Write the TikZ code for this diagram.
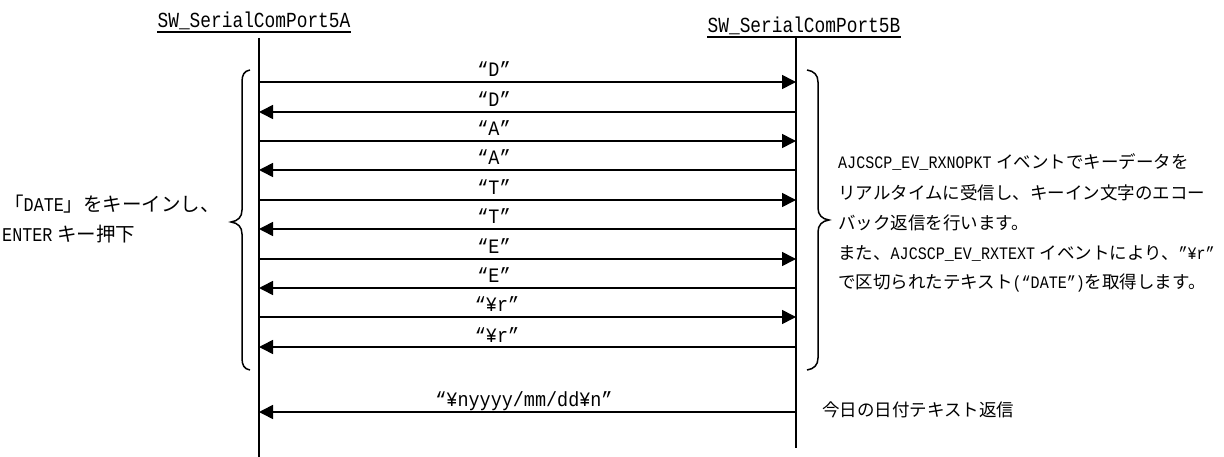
\documentclass[tikz,border=0pt]{standalone}
\usepackage{fontspec}
\setmainfont{Liberation Serif}
\newfontfamily\jpf[Scale=1.0]{Noto Sans CJK JP}
\newfontfamily\monof[Scale=1.0,FakeStretch=0.86]{Liberation Mono}
\newfontfamily\lblf[FakeStretch=0.9]{Liberation Mono}
\newfontfamily\titlef[FakeStretch=0.83]{Liberation Mono}
\usetikzlibrary{arrows.meta}
\newcommand{\jtxt}[1]{{\jpf #1}}
\newcommand{\ltxt}[1]{{\monof #1}}
\tikzset{
  lifeline/.style={line width=1.8pt},
  msg/.style={line width=1.6pt,-{Triangle[length=14pt,width=14pt]}},
  lbl/.style={font=\lblf\fontsize{20.5}{22}\selectfont,anchor=base,inner sep=0pt},
  note/.style={anchor=base west,inner sep=0pt,font=\fontsize{17.5}{20}\selectfont},
  leftnote/.style={anchor=base west,inner sep=0pt,font=\fontsize{19.5}{22}\selectfont},
  ttl/.style={font=\titlef\fontsize{21.5}{24}\selectfont,anchor=base,inner sep=0pt},
  brace/.style={line width=1.5pt},
}
\begin{document}
\begin{tikzpicture}[x=1pt,y=-1pt]
\useasboundingbox (0,0) rectangle (1224,457);
% titles
\node[ttl] (tA) at (254,28) {SW\_SerialComPort5A};
\node[ttl] (tB) at (804,33) {SW\_SerialComPort5B};
\draw[line width=1.2pt] ([yshift=-4pt]tA.base west) -- ([yshift=-4pt]tA.base east);
\draw[line width=1.2pt] ([yshift=-4pt]tB.base west) -- ([yshift=-4pt]tB.base east);
% lifelines
\coordinate (Atop) at (259,38);
\coordinate (Abot) at (259,457);
\coordinate (Btop) at (796,38);
\coordinate (Bbot) at (796,448);
\draw[lifeline] (Atop) -- (Abot);
\draw[lifeline] (Btop) -- (Bbot);
% message end points
\foreach \i/\y in {1/82,2/112,3/141,4/170,5/200,6/229,7/259,8/288,9/317,10/347,11/412}{
  \coordinate (a\i) at (259,\y);
  \coordinate (b\i) at (796,\y);
}
\draw[msg] (a1) -- (b1);
\draw[msg] (b2) -- (a2);
\draw[msg] (a3) -- (b3);
\draw[msg] (b4) -- (a4);
\draw[msg] (a5) -- (b5);
\draw[msg] (b6) -- (a6);
\draw[msg] (a7) -- (b7);
\draw[msg] (b8) -- (a8);
\draw[msg] (a9) -- (b9);
\draw[msg] (b10) -- (a10);
\draw[msg] (b11) -- (a11);
% labels
\node[lbl] (l1) at (494,77) {“D”};
\node[lbl] (l2) at (494,107) {“D”};
\node[lbl] (l3) at (494,136) {“A”};
\node[lbl] (l4) at (494,165) {“A”};
\node[lbl] (l5) at (494,195) {“T”};
\node[lbl] (l6) at (494,224) {“T”};
\node[lbl] (l7) at (494,254) {“E”};
\node[lbl] (l8) at (494,283) {“E”};
\node[lbl] (l9) at (497,312) {“¥r”};
\node[lbl] (l10) at (497,342) {“¥r”};
\node[lbl] (l11) at (524,406) {“¥nyyyy/mm/dd¥n”};
% braces
\draw[brace] (250,70) .. controls (244,71) and (242,75) .. (242,82) -- (242,210)
  .. controls (242,217) and (238,221) .. (231,222)
  .. controls (238,223) and (242,227) .. (242,234) -- (242,358)
  .. controls (242,365) and (244,369) .. (250,370);
\draw[brace] (807,70) .. controls (814,71) and (818,75) .. (818,82) -- (818,208)
  .. controls (818,215) and (822,219) .. (829,220)
  .. controls (822,221) and (818,225) .. (818,232) -- (818,358)
  .. controls (818,365) and (814,369) .. (807,370);
% left note
\node[leftnote] (n1) at (4,212) {\jtxt{「}\ltxt{DATE}\jtxt{」をキーインし、}};
\node[leftnote] (n2) at (2,242) {\ltxt{ENTER} \jtxt{キー押下}};
% right note
\node[note] (r1) at (838,168.5) {\ltxt{AJCSCP\_EV\_RXNOPKT} \jtxt{イベントでキーデータを}};
\node[note] (r2) at (838,199.5) {\jtxt{リアルタイムに受信し、キーイン文字のエコー}};
\node[note] (r3) at (838,229.5) {\jtxt{バック返信を行います。}};
\node[note] (r4) at (838,259.5) {\jtxt{また、}\ltxt{AJCSCP\_EV\_RXTEXT} \jtxt{イベントにより、}\ltxt{”¥r”}};
\node[note] (r5) at (838,288.5) {\jtxt{で区切られたテキスト}\ltxt{(“DATE”)}\jtxt{を取得します。}};
\node[note] (r6) at (822,416.5) {\jtxt{今日の日付テキスト返信}};
\end{tikzpicture}
\end{document}
